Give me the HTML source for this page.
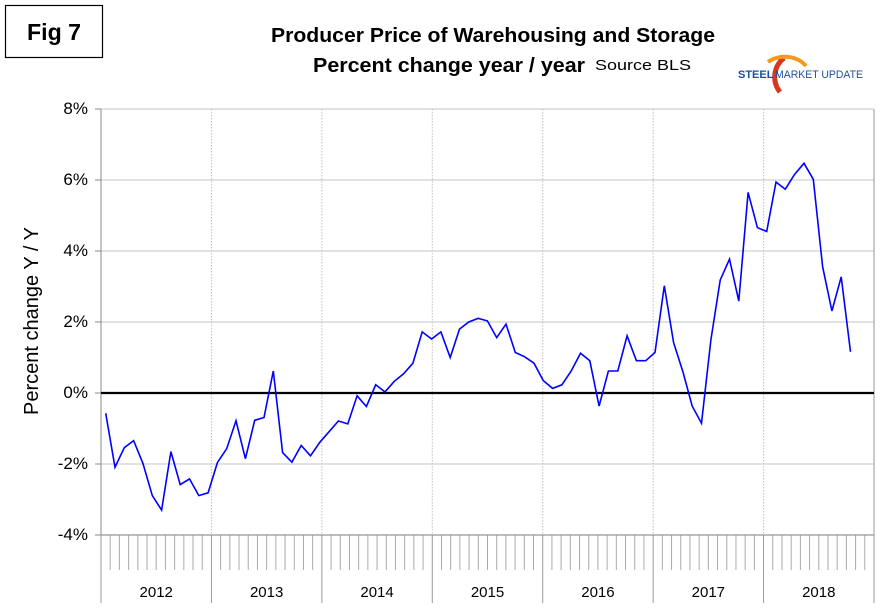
<!DOCTYPE html>
<html><head><meta charset="utf-8"><style>
body{margin:0;background:#fff;}
svg text{font-family:"Liberation Sans",Arial,sans-serif;}
</style></head><body>
<svg width="881" height="611" xmlns="http://www.w3.org/2000/svg">
<rect x="0" y="0" width="881" height="611" fill="#fff"/>
<rect x="5.5" y="5.5" width="97" height="52" fill="#fff" stroke="#000" stroke-width="1.2"/>
<text x="54" y="40" text-anchor="middle" font-size="23" font-weight="bold" textLength="54" lengthAdjust="spacingAndGlyphs">Fig 7</text>
<text x="271" y="42" font-size="20" font-weight="bold" textLength="444" lengthAdjust="spacingAndGlyphs">Producer Price of Warehousing and Storage</text>
<text x="313" y="72" font-size="20" font-weight="bold" textLength="272" lengthAdjust="spacingAndGlyphs">Percent change year / year</text>
<text x="595" y="70" font-size="15" textLength="96" lengthAdjust="spacingAndGlyphs">Source BLS</text>
<g>
<path d="M784,58 A24,24 0 0 0 780,92" fill="none" stroke="#d9381e" stroke-width="5"/>
<path d="M768,62 A26,22 0 0 1 806,66" fill="none" stroke="#f39a1e" stroke-width="4"/>
<text x="738" y="78" font-size="11" font-weight="bold" fill="#1f4e9c">STEEL</text>
<text x="775" y="78" font-size="11" fill="#1f4e9c" textLength="88" lengthAdjust="spacingAndGlyphs">MARKET UPDATE</text>
</g>
<text transform="translate(38,321) rotate(-90)" text-anchor="middle" font-size="20">Percent change Y / Y</text>
<g id="grid"></g>
<g id="axes"></g>
<path id="line" fill="none" stroke="#0000ff" stroke-width="1.6"/>
</svg>
<script>
const years = ["2012","2013","2014","2015","2016","2017","2018"];
const yTicks = [8,6,4,2,0,-2,-4];
const yTickLabels = ["8%","6%","4%","2%","0%","-2%","-4%"];
const values2012 = [-0.57,-2.09,-1.54,-1.34,-1.98,-2.89,-3.30,-1.65,-2.58,-2.42,-2.89,-2.81];
const values2013 = [-1.96,-1.57,-0.78,-1.85,-0.77,-0.69,0.62,-1.68,-1.95,-1.48,-1.77,-1.39];
const values2014 = [-1.09,-0.79,-0.87,-0.08,-0.38,0.23,0.03,0.33,0.54,0.84,1.72,1.52];
const values2015 = [1.72,1.0,1.8,2.0,2.1,2.03,1.56,1.94,1.14,1.02,0.84,0.35];
const values2016 = [0.13,0.23,0.62,1.12,0.91,-0.37,0.62,0.62,1.61,0.91,0.91,1.14];
const values2017 = [3.02,1.42,0.60,-0.37,-0.85,1.5,3.18,3.77,2.59,5.65,4.66,4.55];
const values2018 = [5.94,5.74,6.16,6.47,6.02,3.56,2.31,3.27,1.16];
const series = [].concat(values2012,values2013,values2014,values2015,values2016,values2017,values2018);

const NS="http://www.w3.org/2000/svg";
const L=101,R=874,T=109,B=535;
const yScale=v=>393-(v)*35.5;
const yearW=(R-L)/years.length;
const xYear=i=>L+i*yearW;
const xPoint=i=>105.7+i*9.31;
function mk(tag,attrs,parent){const e=document.createElementNS(NS,tag);for(const k in attrs)e.setAttribute(k,attrs[k]);parent.appendChild(e);return e;}
const grid=document.getElementById('grid'), axes=document.getElementById('axes');
yTicks.forEach((t,i)=>{
  const y=yScale(t);
  if(t!==0){const g=mk('line',{x1:L,x2:R,y1:y,y2:y,stroke:'#d0d0d0','stroke-width':1.2},grid);
  
  }
  const tk=mk('line',{x1:L-6,x2:L,y1:y,y2:y,stroke:'#888'},axes);
  
  
  const tx=mk('text',{x:88,y:y+5,'text-anchor':'end','font-size':17},axes);
  tx.textContent=yTickLabels[i];
  
  
});
years.forEach((yr,i)=>{
  const x=xYear(i);
  if(i>0){const g=mk('line',{x1:x,x2:x,y1:T,y2:B,stroke:'#c0c0c0','stroke-dasharray':'1.5,1.5'},grid);
  
  }
  const yl=mk('line',{x1:x,x2:x,y1:B,y2:603,stroke:'#999','stroke-width':1},axes);
  
  
  for(let m=1;m<12;m++){const mx=x+m*yearW/12;
    const mt=mk('line',{x1:mx,x2:mx,y1:B,y2:570,stroke:'#aaa'},axes);
    
    }
  const t=mk('text',{x:x+yearW/2,y:597,'text-anchor':'middle','font-size':15},axes);
  t.textContent=yr;
  
  
});
const rl=mk('line',{x1:R,x2:R,y1:T,y2:603,stroke:'#999'},axes);


const ax=mk('line',{x1:L,x2:L,y1:T,y2:B,stroke:'#888'},axes);


const bx=mk('line',{x1:L,x2:R,y1:B,y2:B,stroke:'#888'},axes);


const z=mk('line',{x1:L,x2:R,y1:yScale(0),y2:yScale(0),stroke:'#000','stroke-width':2.2},axes);


document.getElementById('line').setAttribute('d',series.map((v,i)=>(i?'L':'M')+xPoint(i).toFixed(1)+','+yScale(v).toFixed(1)).join(' '));
</script>
</body></html>
